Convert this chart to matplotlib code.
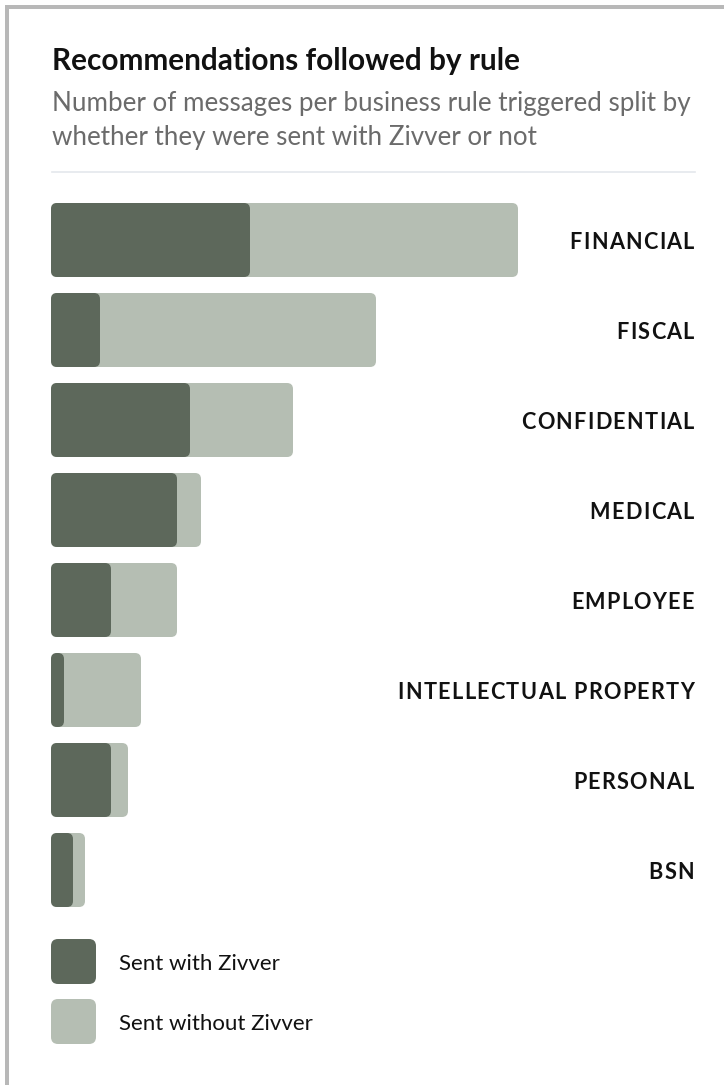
import matplotlib.pyplot as plt
from matplotlib.patches import FancyBboxPatch, Rectangle

plt.rcParams['font.family'] = ['Lato', 'DejaVu Sans']

rules = ['FINANCIAL', 'FISCAL', 'CONFIDENTIAL', 'MEDICAL', 'EMPLOYEE',
         'INTELLECTUAL PROPERTY', 'PERSONAL', 'BSN']
total_msgs = [467, 325, 242, 150, 126, 90, 77, 34]
with_zivver = [199, 49, 139, 126, 60, 13, 60, 22]
series_names = ['Sent with Zivver', 'Sent without Zivver']

dark = '#5d685b'
light = '#b5beb3'

W, H = 724, 1085
fig = plt.figure(figsize=(W / 100, H / 100), dpi=100)

# overlay in pixel coords for the card frame, titles and legend
ov = fig.add_axes([0, 0, 1, 1])
ov.set_xlim(0, W)
ov.set_ylim(H, 0)
ov.axis('off')

ov.add_patch(Rectangle((5, 5), W - 5, 4, color='#b8b8b8', lw=0))
ov.add_patch(Rectangle((5, 5), 4, H - 5, color='#b8b8b8', lw=0))

ov.text(52, 61, 'Recommendations followed by rule', fontsize=21.4,
        fontweight='bold', color='#111111', va='center', ha='left')
ov.text(52, 103, 'Number of messages per business rule triggered split by',
        fontsize=18.7, color='#6b6b6b', va='center', ha='left')
ov.text(52, 138, 'whether they were sent with Zivver or not',
        fontsize=18.7, color='#6b6b6b', va='center', ha='left')
ov.plot([52, 695], [172, 172], color='#e4e8ec', lw=1.2)

# legend
for k, (name, c) in enumerate(zip(series_names, [dark, light])):
    y0 = 939 + k * 60
    ov.add_patch(FancyBboxPatch((51, y0), 45, 45,
                                boxstyle='round,pad=0,rounding_size=7',
                                fc=c, ec='none'))
    ov.text(119, y0 + 25, name, fontsize=16, color='#111111',
            va='center', ha='left')


def tracked(axis, x, y, s, spacing, **kw):
    # right-aligned text with extra letter spacing, laid out char by char
    fig.canvas.draw()
    r = fig.canvas.get_renderer()
    inv = axis.transData.inverted()
    xpx = axis.transData.transform((x, y))[0]
    for ch in reversed(s):
        t = axis.text(0, y, ch, ha='right', va='center', **kw)
        w = t.get_window_extent(r).width if ch != ' ' else 5.5
        t.set_x(inv.transform((xpx, 0))[0])
        xpx -= w + spacing


# bar chart
ax = fig.add_axes([51 / W, 1 - 915 / H, 644 / W, 720 / H])
ax.set_xlim(0, 644)
ax.set_ylim(len(rules) - 0.5, -0.5)
ax.axis('off')

bh = 74 / 90
asp = (1 / 90) / 1.0


def rbar(x, y, w, c):
    ax.add_patch(FancyBboxPatch((0, y - bh / 2), w, bh,
                                boxstyle='round,pad=0,rounding_size=6',
                                mutation_aspect=asp, fc=c, ec='none'))


for i, r in enumerate(rules):
    rbar(0, i, total_msgs[i], light)
    rbar(0, i, with_zivver[i], dark)
    tracked(ax, 643, i + 0.03, r, 1.3, fontsize=15.6, fontweight='bold',
            color='#111111')

fig.savefig('out.png', dpi=100, facecolor='white')
